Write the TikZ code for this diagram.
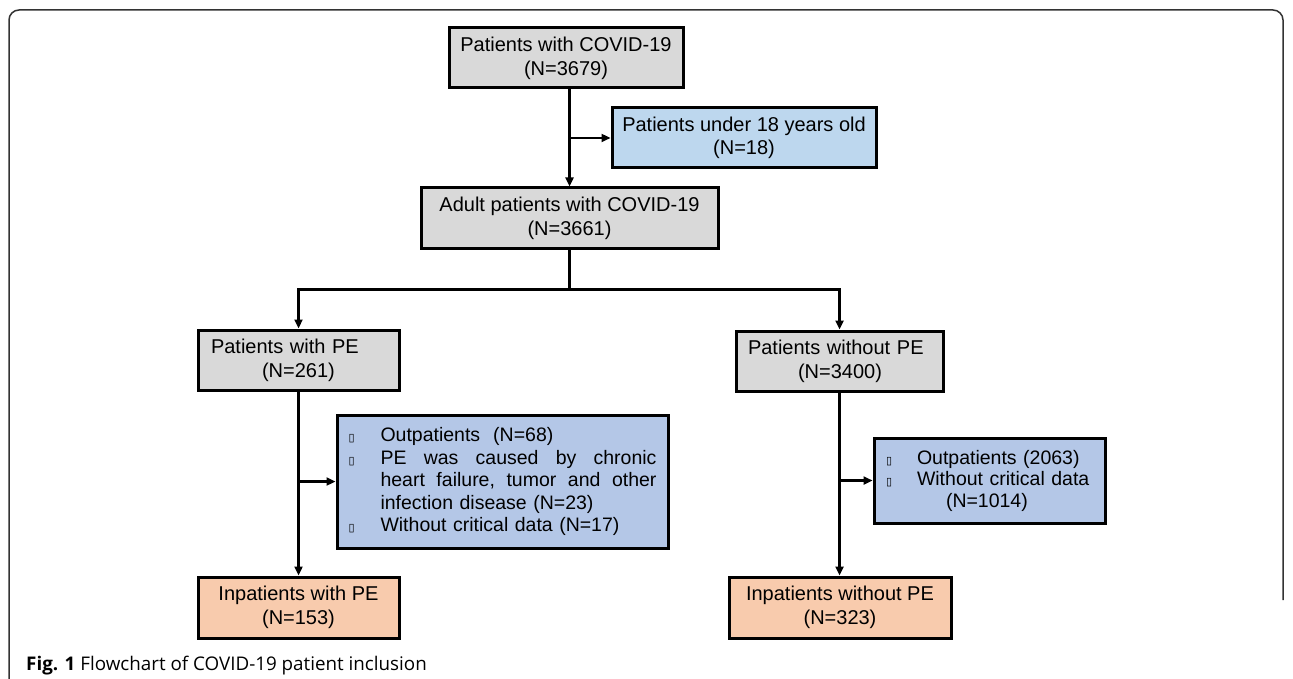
\documentclass[tikz,border=0pt]{standalone}
\usepackage{fontspec}
\setmainfont{Liberation Sans}
\newfontfamily\capfont{Open Sans}
\newfontfamily\symf{DejaVu Sans}
\usetikzlibrary{arrows.meta}
\definecolor{boxgray}{HTML}{D9D9D9}
\definecolor{boxlblue}{HTML}{BDD7EE}
\definecolor{boxblue}{HTML}{B4C7E7}
\definecolor{boxsalmon}{HTML}{F8CBAD}
\definecolor{framegray}{HTML}{333333}
\newcommand{\bulA}{\makebox[32pt][l]{\symf\fontsize{11}{11}\selectfont ▯}}
\newcommand{\bulB}{\makebox[31pt][l]{\symf\fontsize{11}{11}\selectfont ▯}}
\newcommand{\justline}[1]{\hbox to 276pt{#1}}
\tikzset{
  fbox/.style={draw=black, line width=3pt, inner sep=0pt, font=\fontsize{20}{24}\selectfont},
  graybox/.style={fbox, fill=boxgray},
  lbluebox/.style={fbox, fill=boxlblue, font=\fontsize{20}{23}\selectfont},
  bluebox/.style={fbox, fill=boxblue},
  salmonbox/.style={fbox, fill=boxsalmon},
  arr/.style={line width=2.5pt, -{Triangle[length=9pt,width=8pt]}},
  conn/.style={line width=2.5pt}
}
\begin{document}
\begin{tikzpicture}[x=1pt,y=-1pt]
\useasboundingbox (0,0) rectangle (1293,679);
% frame
\draw[framegray, line width=1.5pt, rounded corners=10pt] (9,679) -- (9,10) -- (1283,10) -- (1283,600);

\node[graybox, minimum width=234pt, minimum height=60pt, align=center] (b1) at (566,58)
  {Patients with COVID-19\\(N=3679)};
\node[lbluebox, minimum width=264pt, minimum height=60pt, align=center] (u18) at (744,138)
  {Patients under 18 years old\\(N=18)};
\node[graybox, minimum width=297pt, minimum height=60pt, align=center] (b2) at (569.5,218)
  {Adult patients with COVID-19\\(N=3661)};
\node[graybox, minimum width=201pt, minimum height=60pt, text width=175pt, align=left] (pe) at (298.5,360)
  {Patients with PE\\\hspace*{51pt}(N=261)};
\node[graybox, minimum width=207pt, minimum height=60pt, text width=183pt, align=left] (nope) at (839.5,361)
  {Patients without PE\\\hspace*{50pt}(N=3400)};
\node[bluebox, minimum width=331pt, minimum height=133pt, text width=308pt, align=left,
      font=\fontsize{19.5}{22.5}\selectfont] (ex1) at (502.5,481.5)
  {\bulA Outpatients\ \ (N=68)\\
   \bulA\justline{PE\hfill was\hfill caused\hfill by\hfill chronic}\\
   \hspace*{32pt}\justline{heart\hfill failure,\hfill tumor\hfill and\hfill other}\\
   \hspace*{32pt}infection disease (N=23)\\
   \bulA Without critical data (N=17)};
\node[bluebox, minimum width=231pt, minimum height=85pt, text width=207pt, align=left,
      font=\fontsize{19.5}{21.5}\selectfont] (ex2) at (989.5,480.5)
  {\bulB Outpatients (2063)\\
   \bulB Without critical data\\
   \hspace*{60pt}(N=1014)};
\node[salmonbox, minimum width=201pt, minimum height=61pt, align=center] (inpe) at (298.5,607.5)
  {Inpatients with PE\\(N=153)};
\node[salmonbox, minimum width=222pt, minimum height=61pt, align=center] (innope) at (840,607.5)
  {Inpatients without PE\\(N=323)};

% connectors
\draw[arr] (b1.south -| b2.north) -- (b2.north);
\draw[arr] (u18.west -| b2.north) -- (u18.west);
\draw[conn] (b2.south) -- ++(0,40) coordinate (split);
\draw[arr] (split) -| (pe.north);
\draw[arr] (split) -| (nope.north);
\draw[arr] (pe.south) -- (inpe.north);
\draw[arr] (ex1.west -| pe.south) -- (ex1.west);
\draw[arr] (nope.south) -- (innope.north -| nope.south);
\draw[arr] (ex2.west -| nope.south) -- (ex2.west);

% caption
\node[anchor=base west, inner sep=0pt, font=\capfont\fontsize{18.8}{22}\selectfont] (cap) at (26,670)
  {\textbf{Fig. 1} Flowchart of COVID-19 patient inclusion};
\end{tikzpicture}
\end{document}
